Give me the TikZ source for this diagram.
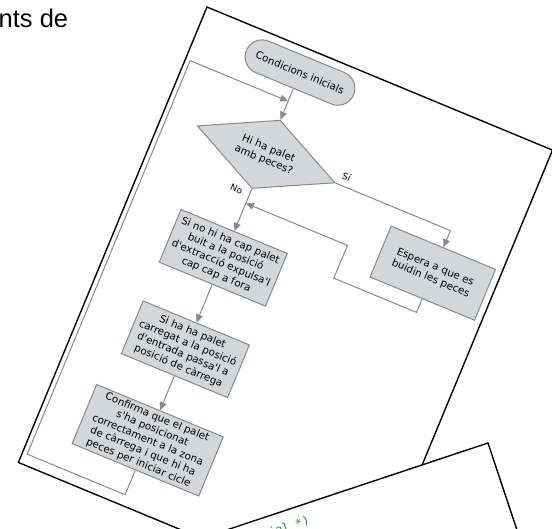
\documentclass[tikz,border=0pt]{standalone}
\usepackage{fontspec}
\usepackage{xcolor,tikz}
\newfontfamily\flowfont{DejaVu Sans}
\newfontfamily\docfont{Liberation Sans}
\newfontfamily\codefont{DejaVu Sans Mono}
\usetikzlibrary{arrows.meta,shapes.geometric,positioning}
\tikzset{>={Triangle[length=8pt,width=7pt]}}
\definecolor{boxfill}{RGB}{211,215,219}
\definecolor{boxline}{RGB}{138,138,138}
\definecolor{codegreen}{RGB}{34,150,34}
\tikzset{
  sheet/.style={draw=black,fill=white,line width=1.4pt},
  flow/.style={draw=boxline,line width=1pt},
  arr/.style={flow,->},
  proc/.style={flow,fill=boxfill,rectangle,align=center,inner sep=2pt,
    font=\flowfont\fontsize{10.3}{12.3}\selectfont},
  term/.style={proc,rounded corners=17pt},
  decis/.style={proc,diamond,aspect=2,inner sep=1pt},
  lbl/.style={font=\flowfont\fontsize{9}{10}\selectfont,inner sep=1pt}
}

\begin{document}
\begin{tikzpicture}[x=1pt,y=1pt]
\useasboundingbox (0,0) rectangle (552,-529);
\clip (0,0) rectangle (552,-529);

\begin{scope}[shift={(207,-7)},rotate=-22.5,transform shape]
\draw[sheet] (0,0) rectangle (374,-493);
\node[term,minimum width=116pt,minimum height=34pt] (ini) at (111,-25) {Condicions inicials};
\node[decis,minimum width=149pt,minimum height=74pt] (dec) at (111,-113.5) {Hi ha palet\\amb peces?};
\node[proc,minimum width=115pt,minimum height=57pt] (buit) at (111,-225.5) {Si no hi ha cap palet\\buit a la posició\\d'extracció expulsa'l\\cap cap a fora};
\node[proc,minimum width=115pt,minimum height=57pt] (carr) at (111,-324.5) {Si ha ha palet\\carregat a la posició\\d'entrada passa'l a\\posició de càrrega};
\node[proc,minimum width=137pt,minimum height=64pt] (conf) at (111,-423) {Confirma que el palet\\s'ha posicionat\\correctament a la zona\\de càrrega i que hi ha\\peces per iniciar cicle};
\node[proc,minimum width=113pt,minimum height=55pt] (esp) at (310.5,-159.5) {Espera a que es\\buidin les peces};
\node[lbl] (no) at (97,-157) {No};
\node[lbl] (si) at (194,-103.5) {Sí};
\coordinate (retA) at (221,-202);
\coordinate (joinA) at (111,-166.5);
\coordinate (retB) at (5,-482);
\coordinate (joinB) at (111,-56);
\draw[arr] (ini) -- (dec);
\draw[arr] (dec) -- (buit);
\draw[arr] (buit) -- (carr);
\draw[arr] (carr) -- (conf);
\draw[arr] (dec.east) -| (esp);
\draw[arr] (esp.south) |- (retA) |- (joinA);
\draw[arr] (conf.south) |- (retB) |- (joinB);
\end{scope}

\begin{scope}[shift={(488,-443)},rotate=18.4,transform shape]
\filldraw[sheet] (-420,0) -- (0,0) -- (0,-200) -- (-420,-200) -- cycle;
\node[font=\codefont\fontsize{11.5}{13}\selectfont,text=codegreen,anchor=base west,inner sep=0] (cmt) at (-243,-20.5) {cial *)};
\end{scope}

\node[font=\docfont\fontsize{25.5}{30}\selectfont,anchor=base west,inner sep=0] (hdr) at (-1.5,-27.5) {nts de};
\end{tikzpicture}
\end{document}
